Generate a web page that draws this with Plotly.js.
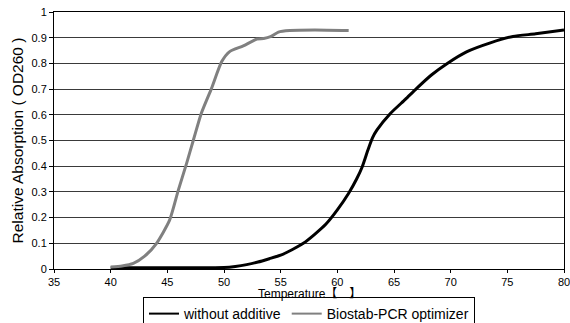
<!DOCTYPE html>
<html>
<head>
<meta charset="utf-8">
<script src="https://cdn.plot.ly/plotly-3.0.1.min.js"></script>
<style>html,body{margin:0;padding:0;background:#fff;}#chart{width:570px;height:323px;}</style>
</head>
<body>
<div id="chart"></div>
<script>
// Series 1: without additive (temperature, relative absorption)
const tempWithout = [40, 45, 50, 51, 52, 53, 54, 55, 56, 57, 58, 59, 60, 61, 61.7, 62.2, 62.7, 63.1, 63.5, 64.7, 66, 67, 68.3, 69.7, 71.4, 73.5, 75.5, 77.5, 80];
const absWithout  = [0.005, 0.005, 0.006, 0.01, 0.017, 0.027, 0.04, 0.054, 0.075, 0.10, 0.135, 0.175, 0.23, 0.295, 0.35, 0.398, 0.463, 0.51, 0.541, 0.606, 0.66, 0.703, 0.755, 0.80, 0.845, 0.88, 0.905, 0.915, 0.93];
// Series 2: Biostab-PCR optimizer
const tempBiostab = [40, 41, 42, 43, 44.05, 45.2, 45.97, 46.7, 47.3, 48.0, 48.9, 49.8, 50.5, 51.7, 52.9, 53.5, 54.1, 54.8, 55.8, 58, 61];
const absBiostab  = [0.008, 0.012, 0.022, 0.05, 0.10, 0.19, 0.307, 0.411, 0.502, 0.606, 0.703, 0.807, 0.846, 0.868, 0.895, 0.897, 0.904, 0.922, 0.928, 0.93, 0.928];

const seriesNames = ['without additive', 'Biostab-PCR optimizer'];
const seriesColors = ['#000000', '#808080'];
const xTickVals = [35, 40, 45, 50, 55, 60, 65, 70, 75, 80];
const yTickVals = [0, 0.1, 0.2, 0.3, 0.4, 0.5, 0.6, 0.7, 0.8, 0.9, 1];
const yTickText = ['0', '0.1', '0.2', '0.3', '0.4', '0.5', '0.6', '0.7', '0.8', '0.9', '1'];
const xTitle = 'Temperature【　】';
const yTitle = 'Relative Absorption ( OD260 )';

const FONT = 'Liberation Sans, Arial, Noto Sans CJK SC, sans-serif';

const traces = [
  {x: tempWithout, y: absWithout, name: seriesNames[0], type: 'scatter', mode: 'lines', showlegend: false,
   line: {color: seriesColors[0], width: 3, shape: 'spline', smoothing: 0.6}},
  {x: tempBiostab, y: absBiostab, name: seriesNames[1], type: 'scatter', mode: 'lines', showlegend: false,
   line: {color: seriesColors[1], width: 3, shape: 'spline', smoothing: 0.6}},
  // legend entries (thin sample lines like the reference)
  {x: [null], y: [null], name: seriesNames[0], type: 'scatter', mode: 'lines',
   line: {color: seriesColors[0], width: 2}},
  {x: [null], y: [null], name: seriesNames[1], type: 'scatter', mode: 'lines',
   line: {color: seriesColors[1], width: 2}}
];

const layout = {
  width: 570, height: 323,
  margin: {l: 54, r: 6, t: 12, b: 54, autoexpand: false},
  paper_bgcolor: '#ffffff', plot_bgcolor: '#ffffff',
  font: {family: FONT, size: 11, color: '#000'},
  showlegend: true,
  legend: {orientation: 'h', x: 0.5, xanchor: 'center', y: -0.109, yanchor: 'top',
           bordercolor: '#000', borderwidth: 1, font: {size: 14, family: FONT},
           bgcolor: 'rgba(255,255,255,0)', traceorder: 'normal', itemwidth: 30},
  xaxis: {
    range: [35, 80], tickvals: xTickVals, ticks: 'outside', ticklen: 3, tickcolor: '#000',
    showline: true, linecolor: '#000', linewidth: 1, mirror: true, showgrid: false, zeroline: false,
    tickfont: {size: 11}, fixedrange: true, ticklabeloverflow: 'allow'
  },
  yaxis: {
    range: [0, 1], tickvals: yTickVals, ticktext: yTickText, ticks: 'outside', ticklen: 4, tickcolor: '#000',
    showline: true, linecolor: '#000', linewidth: 1, mirror: true,
    showgrid: true, gridcolor: '#3a3a3a', gridwidth: 1, zeroline: false,
    tickfont: {size: 11}, fixedrange: true, ticklabeloverflow: 'allow',
    title: {text: yTitle, font: {size: 15.5}, standoff: 4}
  },
  annotations: [
    {text: xTitle, xref: 'paper', yref: 'paper', x: 0.5, y: -0.096, xanchor: 'center', yanchor: 'middle',
     showarrow: false, font: {size: 12, family: FONT}}
  ]
};

Plotly.newPlot('chart', traces, layout, {displayModeBar: false, staticPlot: true});
</script>
</body>
</html>
